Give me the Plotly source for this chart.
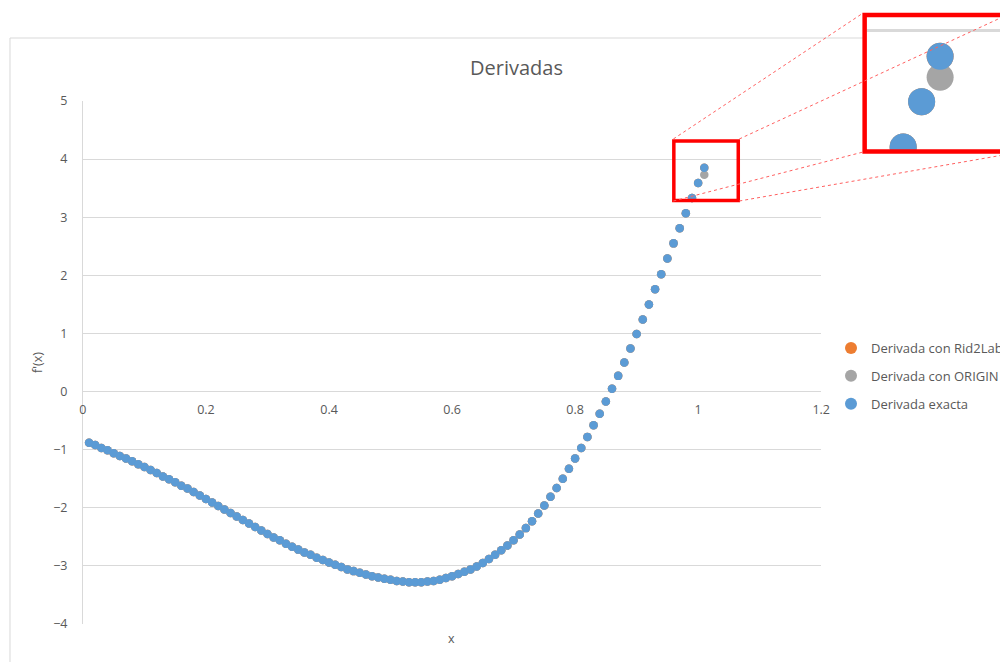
import plotly.graph_objects as go

# the page body adds an 8px offset; the figure is sized to fill the rest of the window
OFF = 8
W, H = 1000, 654

x_vals = [0.01, 0.02, 0.03, 0.04, 0.05, 0.06, 0.07, 0.08, 0.09, 0.10,
          0.11, 0.12, 0.13, 0.14, 0.15, 0.16, 0.17, 0.18, 0.19, 0.20,
          0.21, 0.22, 0.23, 0.24, 0.25, 0.26, 0.27, 0.28, 0.29, 0.30,
          0.31, 0.32, 0.33, 0.34, 0.35, 0.36, 0.37, 0.38, 0.39, 0.40,
          0.41, 0.42, 0.43, 0.44, 0.45, 0.46, 0.47, 0.48, 0.49, 0.50,
          0.51, 0.52, 0.53, 0.54, 0.55, 0.56, 0.57, 0.58, 0.59, 0.60,
          0.61, 0.62, 0.63, 0.64, 0.65, 0.66, 0.67, 0.68, 0.69, 0.70,
          0.71, 0.72, 0.73, 0.74, 0.75, 0.76, 0.77, 0.78, 0.79, 0.80,
          0.81, 0.82, 0.83, 0.84, 0.85, 0.86, 0.87, 0.88, 0.89, 0.90,
          0.91, 0.92, 0.93, 0.94, 0.95, 0.96, 0.97, 0.98, 0.99, 1.00,
          1.01]

deriv_exacta = [-0.88, -0.92, -0.97, -1.01, -1.06, -1.11, -1.15, -1.20, -1.25, -1.30,
                -1.35, -1.40, -1.46, -1.51, -1.56, -1.62, -1.67, -1.73, -1.79, -1.85,
                -1.91, -1.97, -2.03, -2.09, -2.15, -2.21, -2.27, -2.33, -2.39, -2.45,
                -2.51, -2.56, -2.62, -2.67, -2.72, -2.77, -2.81, -2.86, -2.90, -2.94,
                -2.98, -3.02, -3.06, -3.09, -3.12, -3.15, -3.18, -3.20, -3.22, -3.24,
                -3.26, -3.27, -3.28, -3.28, -3.28, -3.27, -3.26, -3.24, -3.21, -3.18,
                -3.14, -3.10, -3.06, -3.01, -2.95, -2.88, -2.81, -2.73, -2.65, -2.56,
                -2.46, -2.35, -2.23, -2.10, -1.96, -1.81, -1.66, -1.50, -1.33, -1.15,
                -0.97, -0.78, -0.58, -0.38, -0.17, 0.05, 0.27, 0.50, 0.74, 0.99,
                1.24, 1.50, 1.76, 2.02, 2.29, 2.55, 2.81, 3.07, 3.33, 3.59,
                3.85]

# ORIGIN and Rid2Lab derivatives coincide with the exact one (hidden under it),
# except the last ORIGIN point which is visible just below.
deriv_origin = deriv_exacta[:-1] + [3.73]
deriv_rid2lab = list(deriv_exacta)

series_names = ["Derivada con Rid2Lab", "Derivada con ORIGIN", "Derivada exacta"]
series_colors = ["#ED7D31", "#A5A5A5", "#5B9BD5"]
series_values = [deriv_rid2lab, deriv_origin, deriv_exacta]

FONT = "Open Sans"
TXT = "#595959"
GRID = "#D9D9D9"

def px_x(p):
    return (p - OFF) / W

def px_y(p):
    return 1 - (p - OFF) / H

fig = go.Figure()

for name, col, vals in zip(series_names, series_colors, series_values):
    fig.add_trace(go.Scatter(x=x_vals, y=vals, mode="markers", name=name,
                             marker=dict(color=col, size=8.5),
                             xaxis="x", yaxis="y", legendgroup=name))

# magnified inset
for name, col, vals in zip(series_names, series_colors, series_values):
    fig.add_trace(go.Scatter(x=x_vals, y=vals, mode="markers", name=name,
                             marker=dict(color=col, size=27),
                             xaxis="x2", yaxis="y2", showlegend=False))

fig.update_layout(
    width=W, height=H,
    margin=dict(l=0, r=0, t=0, b=0),
    paper_bgcolor="white", plot_bgcolor="white",
    font=dict(family=FONT, color=TXT, size=12),
    title=dict(text="Derivadas", x=px_x(517), xanchor="center", xref="paper",
               y=px_y(68), yanchor="middle", yref="container",
               font=dict(size=20, color=TXT, family=FONT)),
    xaxis=dict(domain=[px_x(83), px_x(822)], range=[0, 1.2], dtick=0.2,
               tick0=0, showgrid=False, zeroline=False, showline=False,
               anchor="free", position=px_y(392), ticks="",
               ticklabelstandoff=8, automargin=False,
               tickfont=dict(size=12.5, color=TXT)),
    yaxis=dict(domain=[px_y(624), px_y(101)], range=[-4, 5], dtick=1,
               showgrid=True, gridcolor=GRID, gridwidth=1, zeroline=False,
               showline=True, linecolor=GRID, linewidth=1, ticks="",
               ticklabelstandoff=12, automargin=False,
               tickfont=dict(size=12.5, color=TXT)),
    xaxis2=dict(domain=[px_x(868), 1.0], range=[0.9705, 1.0462],
                showgrid=False, zeroline=False, showline=False,
                showticklabels=False, ticks="", anchor="y2"),
    yaxis2=dict(domain=[px_y(150), px_y(18)], range=[3.3133, 4.0687], dtick=1,
                showgrid=True, gridcolor=GRID, gridwidth=3, zeroline=False,
                showline=False, showticklabels=False, ticks="", anchor="x2"),
    legend=dict(x=px_x(832), xanchor="left", y=px_y(333), yanchor="top",
                bgcolor="rgba(0,0,0,0)", font=dict(size=13, color=TXT),
                tracegroupgap=8, itemsizing="constant"),
    showlegend=True,
)

# axis titles
fig.add_annotation(text="f'(x)", x=px_x(37), y=px_y(362), xref="paper", yref="paper",
                   xanchor="center", yanchor="middle",
                   textangle=-90, showarrow=False, font=dict(size=12.5, color=TXT))
fig.add_annotation(text="x", x=px_x(452), y=px_y(638), xref="paper", yref="paper",
                   xanchor="center", yanchor="middle",
                   showarrow=False, font=dict(size=12.5, color=TXT))

# outer chart border (visible parts)
fig.add_shape(type="line", xref="paper", yref="paper",
              x0=px_x(10), x1=px_x(864), y0=px_y(38), y1=px_y(38),
              line=dict(color=GRID, width=1))
fig.add_shape(type="line", xref="paper", yref="paper",
              x0=px_x(10), x1=px_x(10), y0=px_y(38), y1=px_y(700),
              line=dict(color=GRID, width=1))

# zoom box on the main chart
fig.add_shape(type="rect", xref="paper", yref="paper",
              x0=px_x(674.5), x1=px_x(739), y0=px_y(200.5), y1=px_y(141),
              line=dict(color="#FF0000", width=3.5), layer="above")
# inset frame
fig.add_shape(type="rect", xref="paper", yref="paper",
              x0=px_x(865.5), x1=px_x(1012), y0=px_y(151.5), y1=px_y(15),
              line=dict(color="#FF0000", width=4.5), layer="above")
# connector dotted lines
for (ax0, ay0, ax1, ay1) in [(674, 139, 864, 13), (740, 139, 1010, 14),
                             (674, 201, 864, 152), (740, 201, 1010, 154)]:
    fig.add_shape(type="line", xref="paper", yref="paper",
                  x0=px_x(ax0), y0=px_y(ay0), x1=px_x(ax1), y1=px_y(ay1),
                  line=dict(color="#FF6060", width=1, dash="dot"), layer="above")

fig.write_html("out.html")
